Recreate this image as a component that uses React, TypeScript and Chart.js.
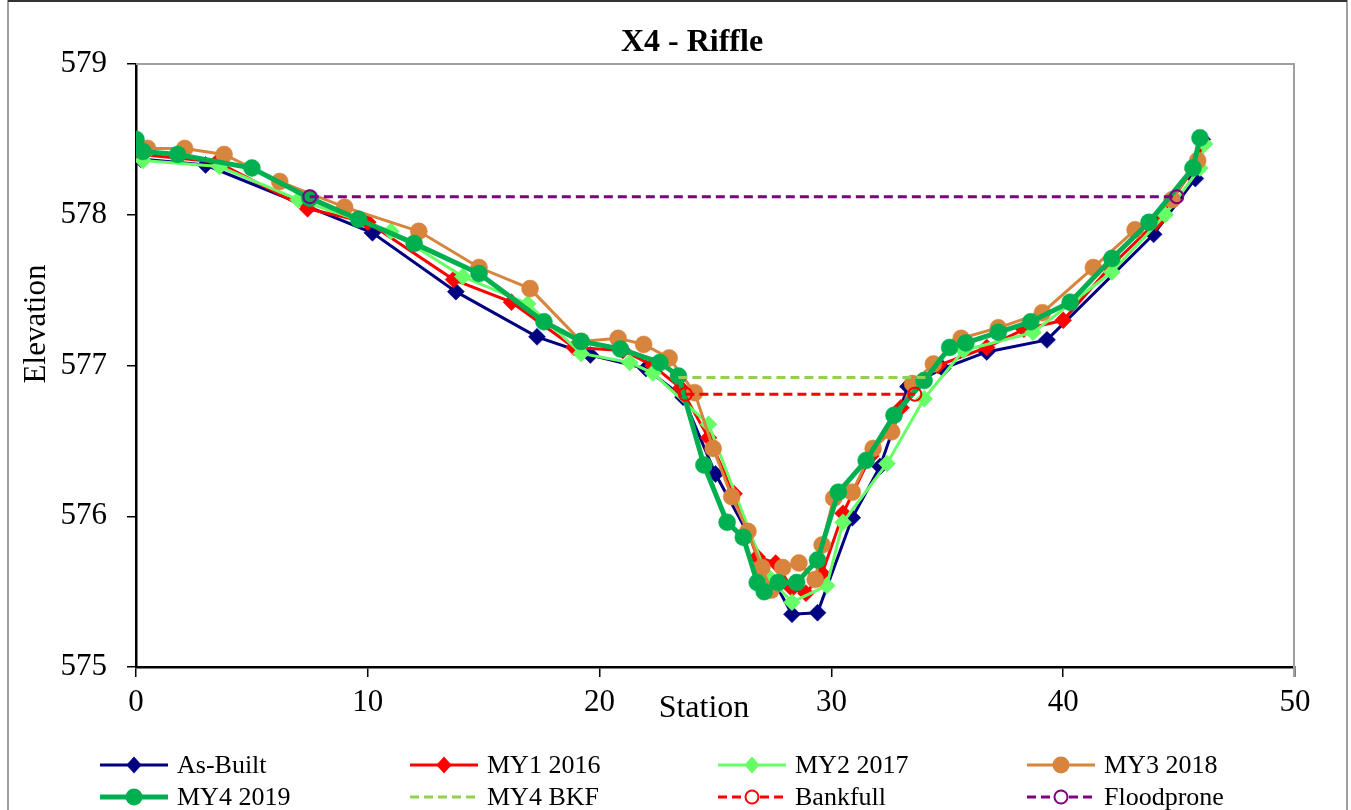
import React, { useEffect, useRef } from "react";
import { Chart, registerables } from "chart.js";

Chart.register(...registerables);

const FONT = "'Liberation Serif', 'Times New Roman', serif";

const CHART_TITLE = "X4 - Riffle";
const X_TITLE = "Station";
const Y_TITLE = "Elevation";
const X_TICKS = [0, 10, 20, 30, 40, 50];
const Y_TICKS = [575, 576, 577, 578, 579];

const asBuiltX = [0.2, 3.0, 10.2, 13.8, 17.3, 19.6, 22.0, 23.6, 25.0, 28.3, 29.4, 30.9, 32.1, 33.3, 34.8, 36.7, 39.3, 43.9, 45.7, 46.0];
const asBuiltY = [578.37, 578.33, 577.88, 577.49, 577.19, 577.07, 576.98, 576.79, 576.28, 575.35, 575.36, 575.99, 576.33, 576.86, 576.98, 577.09, 577.17, 577.87, 578.24, 578.5];

const my1X = [0.2, 3.5, 7.4, 10.0, 13.7, 16.2, 18.9, 21.0, 22.3, 23.5, 24.7, 25.8, 26.8, 27.6, 28.3, 28.9, 29.6, 30.5, 31.7, 33.0, 34.6, 36.7, 38.3, 40.0, 42.0, 44.0, 45.6, 46.0];
const my1Y = [578.4, 578.35, 578.04, 577.95, 577.57, 577.42, 577.12, 577.1, 577.0, 576.85, 576.52, 576.15, 575.73, 575.69, 575.52, 575.49, 575.62, 576.02, 576.4, 576.72, 577.0, 577.12, 577.24, 577.3, 577.65, 577.95, 578.3, 578.48];

const my2X = [0.3, 3.6, 7.0, 11.0, 14.1, 16.9, 19.2, 21.3, 22.3, 24.7, 27.2, 28.3, 29.8, 30.5, 32.4, 34.0, 35.7, 38.7, 42.1, 44.4, 45.9, 46.1];
const my2Y = [578.36, 578.32, 578.1, 577.89, 577.59, 577.41, 577.08, 577.02, 576.95, 576.61, 575.61, 575.43, 575.54, 575.96, 576.35, 576.78, 577.1, 577.22, 577.62, 578.0, 578.31, 578.47];

const my3X = [0.5, 2.1, 3.8, 6.2, 9.0, 12.2, 14.8, 17.0, 19.2, 20.8, 21.9, 23.0, 24.1, 24.9, 25.7, 26.4, 27.0, 27.4, 27.9, 28.6, 29.3, 29.6, 30.1, 30.9, 31.8, 32.6, 33.5, 34.4, 35.6, 37.2, 39.1, 41.3, 43.1, 44.7, 45.8];
const my3Y = [578.44, 578.44, 578.4, 578.22, 578.05, 577.89, 577.65, 577.51, 577.16, 577.18, 577.14, 577.05, 576.82, 576.45, 576.13, 575.9, 575.66, 575.51, 575.66, 575.69, 575.58, 575.81, 576.12, 576.16, 576.45, 576.56, 576.88, 577.01, 577.18, 577.25, 577.35, 577.65, 577.9, 578.1, 578.36];

const my4X = [0.0, 0.3, 1.8, 5.0, 7.5, 9.6, 12.0, 14.8, 17.6, 19.2, 20.9, 22.6, 23.4, 24.5, 25.5, 26.2, 26.8, 27.1, 27.7, 28.5, 29.4, 30.3, 31.5, 32.7, 34.0, 35.1, 35.8, 37.2, 38.6, 40.3, 42.1, 43.7, 45.6, 45.9];
const my4Y = [578.5, 578.42, 578.4, 578.31, 578.11, 577.97, 577.81, 577.61, 577.29, 577.16, 577.11, 577.02, 576.93, 576.34, 575.96, 575.86, 575.56, 575.5, 575.56, 575.56, 575.71, 576.16, 576.37, 576.67, 576.9, 577.12, 577.15, 577.22, 577.29, 577.42, 577.71, 577.95, 578.31, 578.51];

const bkfX = [23.4, 34.1];
const bkfY = [576.92, 576.92];
const bankfullX = [23.7, 33.6];
const bankfullY = [576.81, 576.81];
const floodX = [7.5, 44.9];
const floodY = [578.12, 578.12];

const LABELS = ["As-Built", "MY1 2016", "MY2 2017", "MY3 2018", "MY4 2019", "MY4 BKF", "Bankfull", "Floodprone"];

const toPts = (xs: number[], ys: number[]) => xs.map((x, i) => ({ x, y: ys[i] }));

type Style = {
  color: string;
  width: number;
  dash: number[];
  point: string | false;
  radius: number;
  fill: boolean;
};

const STYLES: Style[] = [
  { color: "#000080", width: 3, dash: [], point: "rectRot", radius: 8.5, fill: true },
  { color: "#FF0000", width: 3, dash: [], point: "rectRot", radius: 8.5, fill: true },
  { color: "#66FF66", width: 3, dash: [], point: "rectRot", radius: 8.5, fill: true },
  { color: "#D8843C", width: 3, dash: [], point: "circle", radius: 8.5, fill: true },
  { color: "#00B050", width: 5, dash: [], point: "circle", radius: 8.5, fill: true },
  { color: "#92D050", width: 3, dash: [9, 5], point: false, radius: 0, fill: false },
  { color: "#FF0000", width: 3, dash: [9, 5], point: "circle", radius: 6.5, fill: false },
  { color: "#800080", width: 3, dash: [9, 5], point: "circle", radius: 6.5, fill: false },
];

const SERIES = [
  toPts(asBuiltX, asBuiltY),
  toPts(my1X, my1Y),
  toPts(my2X, my2Y),
  toPts(my3X, my3Y),
  toPts(my4X, my4Y),
  toPts(bkfX, bkfY),
  toPts(bankfullX, bankfullY),
  toPts(floodX, floodY),
];

const LEGEND_COLS = [100, 410, 718, 1027];
const LEGEND_ROWS = [765, 797];

function drawMarker(ctx: CanvasRenderingContext2D, s: Style, x: number, y: number) {
  if (!s.point) return;
  ctx.save();
  ctx.setLineDash([]);
  ctx.beginPath();
  if (s.point === "rectRot") {
    const r = s.radius;
    ctx.moveTo(x, y - r);
    ctx.lineTo(x + r * 0.9, y);
    ctx.lineTo(x, y + r);
    ctx.lineTo(x - r * 0.9, y);
    ctx.closePath();
  } else {
    ctx.arc(x, y, s.radius, 0, Math.PI * 2);
  }
  if (s.fill) {
    ctx.fillStyle = s.color;
    ctx.fill();
  } else {
    ctx.fillStyle = "#ffffff";
    ctx.fill();
    ctx.strokeStyle = s.color;
    ctx.lineWidth = 2;
    ctx.stroke();
  }
  ctx.restore();
}

const decorPlugin = {
  id: "decor",
  beforeDraw(chart: any) {
    const ctx = chart.ctx as CanvasRenderingContext2D;
    ctx.save();
    ctx.fillStyle = "#ffffff";
    ctx.fillRect(0, 0, chart.width, chart.height);
    ctx.strokeStyle = "#a0a0a0";
    ctx.lineWidth = 2;
    ctx.beginPath();
    ctx.moveTo(8, 0);
    ctx.lineTo(8, chart.height);
    ctx.moveTo(1347, 0);
    ctx.lineTo(1347, chart.height);
    ctx.stroke();
    ctx.strokeStyle = "#333333";
    ctx.beginPath();
    ctx.moveTo(8, 1);
    ctx.lineTo(1347, 1);
    ctx.stroke();
    ctx.restore();
  },
  beforeDatasetsDraw(chart: any) {
    const ctx = chart.ctx as CanvasRenderingContext2D;
    const a = chart.chartArea;
    ctx.save();
    ctx.strokeStyle = "#a0a0a0";
    ctx.lineWidth = 2;
    ctx.beginPath();
    ctx.moveTo(a.left, a.top);
    ctx.lineTo(a.right - 1, a.top);
    ctx.lineTo(a.right - 1, a.bottom + 10);
    ctx.stroke();
    ctx.restore();
  },
  afterDraw(chart: any) {
    const ctx = chart.ctx as CanvasRenderingContext2D;
    ctx.save();
    ctx.fillStyle = "#000000";
    ctx.font = `bold 32px ${FONT}`;
    ctx.textAlign = "center";
    ctx.textBaseline = "alphabetic";
    ctx.fillText(CHART_TITLE, 692, 51);
    ctx.font = `32px ${FONT}`;
    ctx.fillText(X_TITLE, 704, 717);
    ctx.save();
    ctx.translate(45, 324);
    ctx.rotate(-Math.PI / 2);
    ctx.font = `31px ${FONT}`;
    ctx.fillText(Y_TITLE, 0, 0);
    ctx.restore();
    ctx.font = `26px ${FONT}`;
    ctx.textAlign = "left";
    ctx.textBaseline = "alphabetic";
    LABELS.forEach((label, i) => {
      const s = STYLES[i];
      const x0 = LEGEND_COLS[i % 4];
      const y = LEGEND_ROWS[Math.floor(i / 4)];
      ctx.save();
      ctx.strokeStyle = s.color;
      ctx.lineWidth = s.width;
      ctx.setLineDash(s.dash);
      ctx.beginPath();
      ctx.moveTo(x0, y);
      ctx.lineTo(x0 + 68, y);
      ctx.stroke();
      ctx.restore();
      drawMarker(ctx, s, x0 + 34, y);
      ctx.fillStyle = "#000000";
      ctx.fillText(label, x0 + 77, y + 8);
    });
    ctx.restore();
  },
};

export default function App() {
  const ref = useRef<HTMLCanvasElement | null>(null);

  useEffect(() => {
    if (!ref.current) return;
    Chart.defaults.font.family = FONT;
    const datasets = SERIES.map((data, i) => {
      const s = STYLES[i];
      return {
        label: LABELS[i],
        data,
        showLine: true,
        borderColor: s.color,
        backgroundColor: s.fill ? s.color : "#ffffff",
        borderWidth: s.width,
        borderDash: s.dash,
        pointStyle: s.point || "circle",
        pointRadius: s.point ? s.radius : 0,
        pointBorderWidth: s.fill ? 0.5 : 2,
        pointBorderColor: s.color,
        pointBackgroundColor: s.fill ? s.color : "rgba(255,255,255,0)",
        pointHoverRadius: s.point ? s.radius : 0,
        order: LABELS.length - i,
        tension: 0,
      };
    });

    const chart = new Chart(ref.current, {
      type: "scatter",
      data: { datasets } as any,
      options: {
        animation: false,
        responsive: false,
        maintainAspectRatio: false,
        events: [],
        layout: { padding: { left: 0, top: 64, right: 56, bottom: 0 } },
        plugins: {
          legend: { display: false },
          title: { display: false },
          tooltip: { enabled: false },
        },
        scales: {
          x: {
            type: "linear",
            min: 0,
            max: 50,
            afterFit: (scale: any) => {
              scale.height = 143;
            },
            afterBuildTicks: (scale: any) => {
              scale.ticks = X_TICKS.map((v) => ({ value: v }));
            },
            ticks: {
              color: "#000000",
              font: { size: 31, family: FONT },
              padding: 7,
              maxRotation: 0,
            },
            grid: {
              drawOnChartArea: false,
              drawTicks: true,
              tickLength: 10,
              color: "#000000",
              lineWidth: 1.5,
            },
            border: { display: true, color: "#000000", width: 2.5 },
          },
          y: {
            type: "linear",
            min: 575,
            max: 579,
            afterFit: (scale: any) => {
              scale.width = 136;
            },
            afterBuildTicks: (scale: any) => {
              scale.ticks = Y_TICKS.map((v) => ({ value: v }));
            },
            ticks: {
              color: "#000000",
              font: { size: 31, family: FONT },
              padding: 20,
            },
            grid: {
              drawOnChartArea: false,
              drawTicks: true,
              tickLength: 9,
              color: "#000000",
              lineWidth: 1.5,
            },
            border: { display: true, color: "#000000", width: 2.5 },
          },
        },
      } as any,
      plugins: [decorPlugin],
    });
    return () => chart.destroy();
  }, []);

  return (
    <div style={{ position: "absolute", left: 0, top: 0, width: 1351, height: 810, overflow: "hidden" }}>
      <canvas ref={ref} width={1351} height={810} style={{ display: "block" }} />
    </div>
  );
}
